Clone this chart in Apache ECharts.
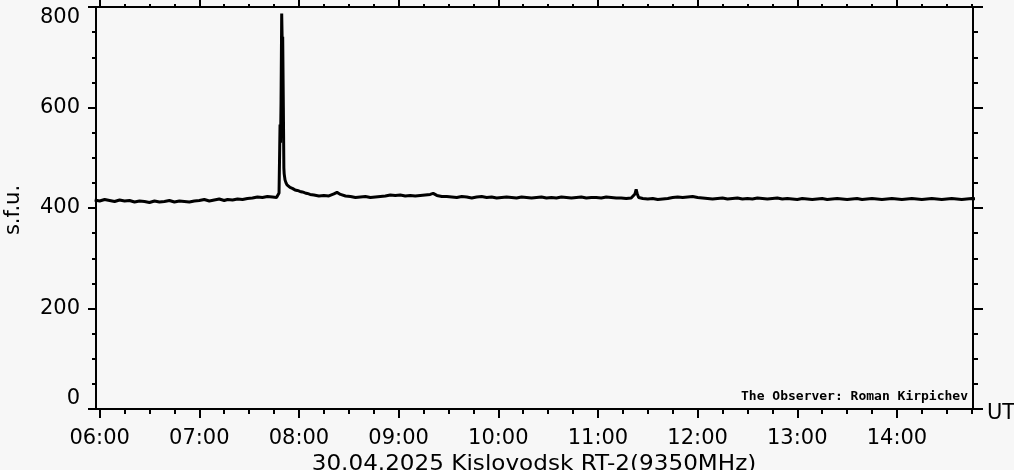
<!DOCTYPE html>
<html>
<head>
<meta charset="utf-8">
<script src="https://cdn.jsdelivr.net/npm/echarts@6/dist/echarts.min.js"></script>
<style>
  html, body { margin: 0; padding: 0; background: #f7f7f7; }
  #chart { width: 1014px; height: 470px; }
</style>
</head>
<body>
<div id="chart"></div>
<script>
// Time is in minutes after 06:00 UT; flux in s.f.u.
const hourTicks = [0, 60, 120, 180, 240, 300, 360, 420, 480];
const hourLabels = ['06:00', '07:00', '08:00', '09:00', '10:00', '11:00', '12:00', '13:00', '14:00'];
const fluxTicks = [0, 200, 400, 600, 800];
const chartTitle = '30.04.2025 Kislovodsk RT-2(9350MHz)';
const observer = 'The Observer: Roman Kirpichev';

const preFlare = [
  [-3, 416], [0, 414], [3, 417], [6, 415], [9, 413], [12, 416], [15, 414], [18, 415],
  [21, 412], [24, 414], [27, 413], [30, 411], [33, 414], [36, 412], [39, 413], [42, 415],
  [45, 412], [48, 414], [51, 413], [54, 412], [57, 414],
  [60, 415], [63, 417], [66, 414], [69, 416], [72, 418], [75, 415], [77, 417], [80, 416],
  [83, 418], [86, 417], [89, 419], [92, 420], [95, 422], [98, 421], [101, 423], [104, 422]
];
const flare = [
  [106.5, 421], [107.4, 424], [108.0, 430], [108.4, 520], [108.6, 566], [108.9, 530],
  [109.2, 610], [109.6, 787], [109.9, 730], [110.2, 741], [110.6, 600], [110.9, 480],
  [111.1, 468], [111.6, 456], [112.2, 450], [112.8, 446], [113.7, 443], [114.6, 441],
  [116, 439], [117.6, 436], [119, 435], [120.6, 433], [122, 432], [123.7, 430],
  [125, 429], [126.7, 427]
];
const postFlare = [
  [129, 426], [132, 424], [135, 425], [138, 424], [141, 428], [142.9, 431], [145, 427], [148, 424],
  [151, 423], [154, 421], [157, 422], [160, 423], [163, 421], [166, 422], [169, 423], [172, 424],
  [175, 426], [178, 425], [181, 426], [184, 424], [187, 425], [190, 424], [193, 425], [196, 426],
  [199, 427], [200.8, 429], [203, 425], [206, 423], [209, 423]
];
const midDay = [
  [212, 422], [215, 421], [218, 423], [221, 422], [224, 420], [227, 422], [230, 423], [233, 421],
  [236, 422], [239, 420], [242, 421], [245, 422], [248, 421], [251, 420], [254, 422], [257, 421],
  [260, 420], [263, 421], [266, 422], [269, 420], [272, 421], [275, 420], [278, 422], [281, 421],
  [284, 420], [287, 421], [290, 422], [293, 420], [296, 421], [299, 421], [302, 420], [305, 422],
  [308, 421], [311, 420], [314, 420], [317, 419], [320, 420],
  [322.3, 428], [323, 437], [323.6, 429], [324.5, 421]
];
const lateDay = [
  [327, 419], [330, 418], [333, 419], [336, 417], [339, 418], [342, 419], [345, 421], [348, 422],
  [351, 421], [354, 422], [357, 423], [360, 421], [363, 420], [366, 419], [369, 418], [372, 419],
  [375, 420], [378, 418], [381, 419], [384, 420], [387, 418], [390, 419], [393, 418], [396, 420],
  [399, 419], [402, 418], [405, 419], [408, 420], [411, 418], [414, 419], [417, 418], [420, 417],
  [423, 419], [426, 418], [429, 417], [432, 418], [435, 419], [438, 417], [441, 418], [444, 419],
  [447, 418], [450, 417], [453, 418], [456, 419], [459, 417], [462, 418], [465, 419], [468, 418],
  [471, 417], [474, 418], [477, 419], [480, 418], [483, 417], [486, 418], [489, 419], [492, 418],
  [495, 417], [498, 418], [501, 419], [504, 418], [507, 417], [510, 418], [513, 419], [516, 418],
  [519, 417], [522, 418], [525, 419], [528, 418]
];

const quarterTicks = [];
for (let m = 0; m <= 525; m += 15) quarterTicks.push(m);

const X_MIN = -2.2, X_MAX = 525.8;
const FONT = 'DejaVu Sans';
const black = '#000';

function xAx(pos, vals, len, labels) {
  return {
    type: 'value', position: pos, min: X_MIN, max: X_MAX,
    axisLine: { show: true, onZero: false, lineStyle: { color: black, width: 2 } },
    axisTick: { show: true, inside: false, length: len, customValues: vals, lineStyle: { color: black, width: 2 } },
    axisLabel: labels ? {
      show: true, customValues: hourTicks, margin: 19, color: black, fontFamily: FONT, fontSize: 21,
      formatter: function (v) { return hourLabels[hourTicks.indexOf(Math.round(v))] || ''; }
    } : { show: false },
    splitLine: { show: false }
  };
}
function yAx(pos, len, minorLen, labels) {
  return {
    type: 'value', position: pos, min: 0, max: 800, interval: 200,
    axisLine: { show: true, onZero: false, lineStyle: { color: black, width: 2 } },
    axisTick: { show: true, inside: false, length: len, lineStyle: { color: black, width: 2 } },
    minorTick: { show: true, splitNumber: 4, length: minorLen, lineStyle: { color: black, width: 2 } },
    axisLabel: labels ? {
      show: true, margin: 16, color: black, fontFamily: FONT, fontSize: 21,
      verticalAlignMaxLabel: 'top', verticalAlignMinLabel: 'bottom',
      formatter: function (v) { return fluxTicks.indexOf(v) >= 0 ? String(v) : ''; }
    } : { show: false },
    splitLine: { show: false }
  };
}

const chart = echarts.init(document.getElementById('chart'), null, { renderer: 'canvas' });
chart.setOption({
  backgroundColor: '#f7f7f7',
  animation: false,
  grid: { left: 96, top: 7, width: 877, height: 402, containLabel: false },
  xAxis: [
    xAx('bottom', hourTicks, 9, true),
    xAx('bottom', quarterTicks, 5, false),
    xAx('top', hourTicks, 8, false),
    xAx('top', quarterTicks, 3, false)
  ],
  yAxis: [
    yAx('left', 8, 4, true),
    yAx('right', 10, 5, false)
  ],
  series: [{
    type: 'line', xAxisIndex: 0, yAxisIndex: 0,
    data: [].concat(preFlare, flare, postFlare, midDay, lateDay),
    showSymbol: false, symbol: 'none', clip: true,
    lineStyle: { color: black, width: 3 }
  }],
  graphic: [
    { type: 'text', x: 534, y: 465, scaleX: 1.1, style: { text: chartTitle, fill: black, font: '21px "DejaVu Sans"', textAlign: 'center', textVerticalAlign: 'middle' } },
    { type: 'text', x: 987, y: 414, style: { text: 'UT', fill: black, font: '21px "DejaVu Sans"', textAlign: 'left', textVerticalAlign: 'middle' } },
    { type: 'text', x: 14, y: 210, rotation: Math.PI / 2, style: { text: 's.f.u.', fill: black, font: '21px "DejaVu Sans"', textAlign: 'center', textVerticalAlign: 'middle' } },
    { type: 'text', x: 968, y: 397, style: { text: observer, fill: black, font: 'bold 13px "DejaVu Sans Mono"', textAlign: 'right', textVerticalAlign: 'middle' } }
  ]
});
</script>
</body>
</html>
